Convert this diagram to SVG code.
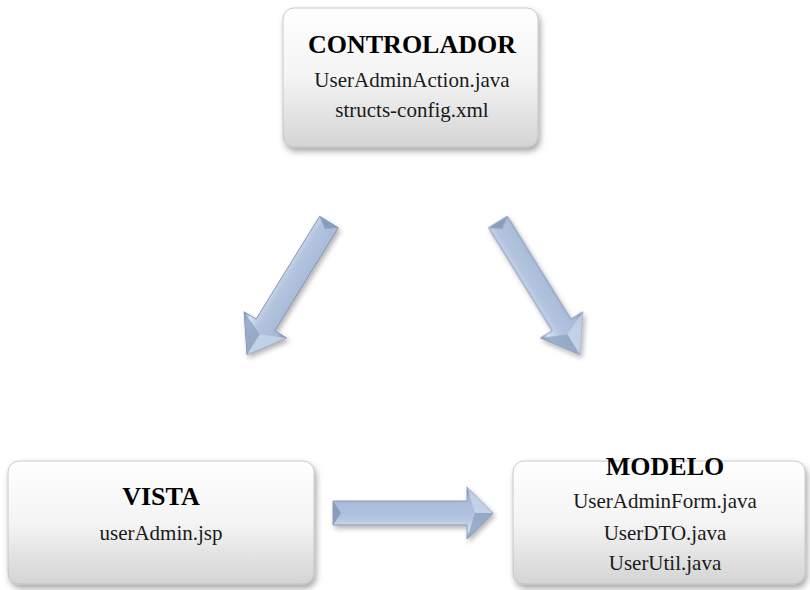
<svg xmlns="http://www.w3.org/2000/svg" width="810" height="590" viewBox="0 0 810 590">
<defs>
  <linearGradient id="boxGrad" x1="0" y1="0" x2="0" y2="1">
    <stop offset="0" stop-color="#ffffff"/>
    <stop offset="0.5" stop-color="#f4f4f4"/>
    <stop offset="1" stop-color="#d4d4d4"/>
  </linearGradient>
  <linearGradient id="arrowGrad" x1="0" y1="0" x2="0" y2="1">
    <stop offset="0" stop-color="#7b8fb1"/>
    <stop offset="0.2" stop-color="#a6b9d7"/>
    <stop offset="0.6" stop-color="#b3c4df"/>
    <stop offset="0.85" stop-color="#d8e3f3"/>
    <stop offset="1" stop-color="#8194b6"/>
  </linearGradient>
  <filter id="shadow" x="-10%" y="-10%" width="125%" height="130%">
    <feDropShadow dx="2" dy="4" stdDeviation="3" flood-color="#000" flood-opacity="0.35"/>
  </filter>
  <filter id="ashadow" x="-20%" y="-20%" width="150%" height="150%">
    <feDropShadow dx="2" dy="3" stdDeviation="2.5" flood-color="#000" flood-opacity="0.3"/>
  </filter>
  <symbol id="arrow" overflow="visible">
    <polygon points="0,-11 121,-11 121,-25 156,0 121,25 121,11 0,11" fill="url(#arrowGrad)" stroke="#7a8cab" stroke-width="0.8" stroke-linejoin="round"/>
    <polygon points="121,-25 156,0 132,0" fill="#c9d6ea" opacity="0.8"/>
    <polygon points="121,25 156,0 132,0" fill="#8fa2c2" opacity="0.8"/>
    <polygon points="0,-11 8,0 0,11" fill="#8a9dbd"/>
  </symbol>
</defs>
<style>
  .box { fill: url(#boxGrad); stroke: #bdbdbd; stroke-width: 0.8; filter: url(#shadow); }
  .title { font-weight: bold; font-size: 26px; fill: #000; text-anchor: middle; }
  .item { font-size: 21px; fill: #1a1a1a; text-anchor: middle; }
</style>

<g id="controlador" font-family="'Liberation Serif', Tinos, 'Times New Roman', Times, 'Noto Serif', 'DejaVu Serif', serif">
  <rect class="box" x="283" y="8" width="255" height="139" rx="11"/>
  <text class="title" x="412" y="53">CONTROLADOR</text>
  <text class="item" x="412" y="87">UserAdminAction.java</text>
  <text class="item" x="412" y="117">structs-config.xml</text>
</g>

<g id="vista" font-family="'Liberation Serif', Tinos, 'Times New Roman', Times, 'Noto Serif', 'DejaVu Serif', serif">
  <rect class="box" x="8" y="461" width="306" height="123" rx="11"/>
  <text class="title" x="161" y="505">VISTA</text>
  <text class="item" x="161" y="540">userAdmin.jsp</text>
</g>

<g id="modelo" font-family="'Liberation Serif', Tinos, 'Times New Roman', Times, 'Noto Serif', 'DejaVu Serif', serif">
  <rect class="box" x="513" y="461" width="292" height="123" rx="11"/>
  <text class="title" x="665" y="475">MODELO</text>
  <text class="item" x="665" y="508">UserAdminForm.java</text>
  <text class="item" x="665" y="540">UserDTO.java</text>
  <text class="item" x="665" y="570">UserUtil.java</text>
</g>

<g id="connectors" filter="url(#ashadow)">
  <use href="#arrow" transform="translate(329,222) rotate(121.7)"/>
  <use href="#arrow" transform="translate(498,222) rotate(58.3)"/>
  <polygon points="333,501 467,501 467,487 493,513 467,539 467,525 333,525" fill="url(#arrowGrad)" stroke="#7a8cab" stroke-width="0.8" stroke-linejoin="round"/>
  <polygon points="467,487 493,513 475,513" fill="#c9d6ea" opacity="0.8"/>
  <polygon points="467,539 493,513 475,513" fill="#8fa2c2" opacity="0.8"/>
  <polygon points="333,501 341,513 333,525" fill="#8a9dbd"/>
</g>
</svg>
